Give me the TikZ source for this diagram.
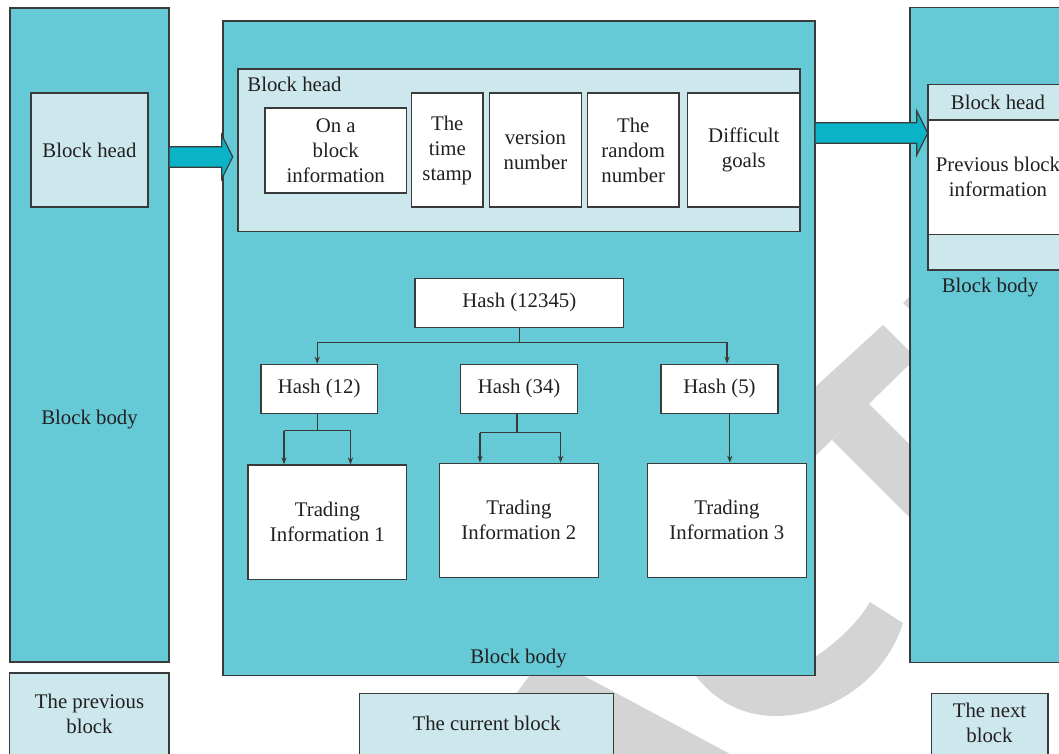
\documentclass[tikz,border=0pt]{standalone}
\usepackage{fontspec}
\setmainfont{Liberation Serif}
\usetikzlibrary{calc,arrows.meta}
\definecolor{tealfill}{HTML}{66C9D6}
\definecolor{lightfill}{HTML}{CCE8EC}
\definecolor{arrowfill}{HTML}{0AB3C6}
\definecolor{edge}{HTML}{3A3A3A}
\definecolor{ink}{HTML}{231F20}
\definecolor{wmgray}{HTML}{D4D4D4}
\tikzset{
  every node/.style={font=\fontsize{10.4}{12.5}\selectfont, text=ink},
  frame/.style={draw=edge, line width=0.65pt, inner sep=0pt, align=center},
  tealbox/.style={frame, fill=tealfill},
  lightbox/.style={frame, fill=lightfill},
  whitebox/.style={frame, fill=white},
  caption/.style={inner sep=0pt, align=center},
  link/.style={draw=edge, line width=0.6pt},
  tip/.style={link, -{Stealth[length=3.5pt,width=2.6pt]}},
  blockarrow/.style={draw=edge, line width=0.6pt, fill=arrowfill, line join=miter},
}
% \rectnode{name}{style}{x1}{y1}{x2}{y2}{text}: box spanning two corners (pixel units)
\newcommand{\rectnode}[7]{%
  \node[#2, minimum width={0.5pt*(#5-#3)}, minimum height={0.5pt*(#6-#4)}]
    (#1) at ({(#3+#5)/2},{(#4+#6)/2}) {#7};}
\begin{document}
\begin{tikzpicture}[x=0.5pt,y=-0.5pt]
\useasboundingbox (0,0) rectangle (1059,754);
\clip (0,0) rectangle (1059,754);

% grey background strokes
\fill[wmgray] (545,655) -- (745,762) -- (465,762) -- cycle;
\fill[wmgray] (870,602) -- (903,623) .. controls (885,680) and (830,717) .. (773,716)
  .. controls (740,715) and (712,700) .. (690,668) -- (700,640) -- (812,640) -- (815,657)
  .. controls (840,640) and (858,622) .. (870,602) -- cycle;
\fill[wmgray] (790,410) -- (883,325) -- (916,358) -- (805,466) -- cycle;
\fill[wmgray] (832,440) -- (868,403) -- (930,465) -- (930,538) -- cycle;
\fill[wmgray] (903,303) -- (911,295) -- (911,311) -- cycle;

% previous block
\rectnode{prev}{tealbox}{10}{8}{169}{662}{}
\rectnode{prevhead}{lightbox}{31}{93}{148}{207}{Block head}
\node[caption] (prevbody) at (89.5,420) {Block body};
\rectnode{prevlabelbox}{lightbox}{9.5}{673}{169}{800}{}
\node[caption] (prevlabel) at (89.5,713.5) {The previous\\block};

% current block
\rectnode{cur}{tealbox}{223}{21}{815}{675.5}{}
\rectnode{curhead}{lightbox}{238}{69}{800}{231.5}{}
\node[caption, anchor=west] (curheadlabel) at (247,84.5) {Block head};
\rectnode{prevhash}{whitebox}{265}{108}{406.5}{193}{On a\\block\\information}
\rectnode{stamp}{whitebox}{411.5}{93}{483}{207}{The\\time\\stamp}
\rectnode{version}{whitebox}{489.5}{93}{581.3}{207}{version\\number}
\rectnode{nonce}{whitebox}{587.4}{93}{679}{207}{The\\random\\number}
\rectnode{target}{whitebox}{687.7}{93}{800}{207}{Difficult\\goals}

% hash tree
\rectnode{h12345}{whitebox}{415}{278.3}{623.7}{327.3}{Hash (12345)}
\rectnode{h12}{whitebox}{261}{364.3}{377.3}{413.3}{Hash (12)}
\rectnode{h34}{whitebox}{460.7}{364.3}{577.4}{413.3}{Hash (34)}
\rectnode{h5}{whitebox}{661}{364.3}{778}{413.3}{Hash (5)}
\rectnode{t1}{whitebox}{248}{465}{406.8}{579.3}{Trading\\Information 1}
\rectnode{t2}{whitebox}{439.3}{463.3}{598.5}{577.3}{Trading\\Information 2}
\rectnode{t3}{whitebox}{647.5}{463.3}{806.3}{577.3}{Trading\\Information 3}
\node[caption] (curbody) at (518.5,659) {Block body};
\rectnode{curlabelbox}{lightbox}{359.7}{693.5}{613.4}{800}{}
\node[caption] (curlabel) at (486.5,723) {The current block};

% next block
\rectnode{next}{tealbox}{910}{7.5}{1100}{662.3}{}
\rectnode{nexthead}{lightbox}{928}{84.3}{1068}{120}{Block head}
\rectnode{nextprev}{whitebox}{928}{120}{1068}{234.3}{Previous block\\information}
\rectnode{nextrest}{lightbox}{928}{234.3}{1068}{270}{}
\node[caption] (nextbody) at (990,288) {Block body};
\rectnode{nextlabelbox}{lightbox}{931.5}{693.5}{1048}{800}{}
\node[caption] (nextlabel) at (989.5,723) {The next\\block};

% block-to-block arrows
\coordinate (a1s) at (prev.east |- 0,157);
\coordinate (a1t) at (232.7,157);
\draw[blockarrow] ($(a1s)+(0,-10.3)$) -- ($(a1t)+(-11,-10.3)$) -- ($(a1t)+(-11,-22)$)
  -- (a1t) -- ($(a1t)+(-11,22)$) -- ($(a1t)+(-11,10.3)$) -- ($(a1s)+(0,10.3)$);
\coordinate (a2s) at (cur.east |- 0,133);
\coordinate (a2t) at (927.7,133);
\draw[blockarrow] ($(a2s)+(0,-10.3)$) -- ($(a2t)+(-11,-10.3)$) -- ($(a2t)+(-11,-22.2)$)
  -- (a2t) -- ($(a2t)+(-11,22.2)$) -- ($(a2t)+(-11,10.3)$) -- ($(a2s)+(0,10.3)$);

% tree connectors
\coordinate (bus1) at (317.2,342.3);
\coordinate (bus2) at (727,342.3);
\draw[link] (h12345.south) -- (h12345.south |- bus1);
\draw[link] (bus1) -- (bus2);
\draw[tip] (bus1) -- (bus1 |- h12.north);
\draw[tip] (bus2) -- (bus2 |- h5.north);

\coordinate (s1) at (317.2,430.7);
\coordinate (s1l) at (284,430.7);
\coordinate (s1r) at (350.5,430.7);
\draw[link] (s1 |- h12.south) -- (s1);
\draw[link] (s1l) -- (s1r);
\draw[tip] (s1l) -- (s1l |- t1.north);
\draw[tip] (s1r) -- (s1r |- t1.north);

\coordinate (s2) at (517,432.7);
\coordinate (s2l) at (480,432.7);
\coordinate (s2r) at (560.6,432.7);
\draw[link] (s2 |- h34.south) -- (s2);
\draw[link] (s2l) -- (s2r);
\draw[tip] (s2l) -- (s2l |- t2.north);
\draw[tip] (s2r) -- (s2r |- t2.north);

\coordinate (s3) at (729.8,420);
\draw[tip] (s3 |- h5.south) -- (s3 |- t3.north);
\end{tikzpicture}
\end{document}
